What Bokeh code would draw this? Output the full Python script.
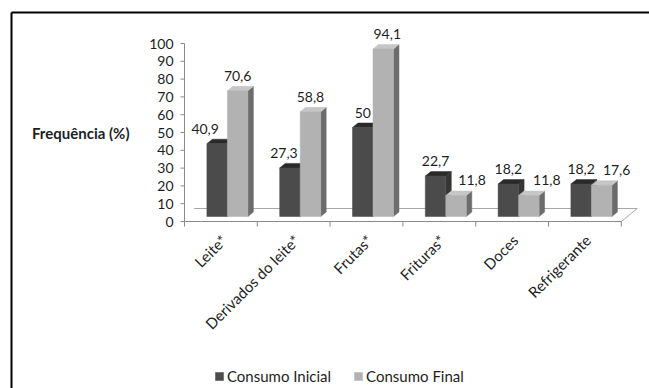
import math

from bokeh.core.properties import value
from bokeh.embed import file_html
from bokeh.models import ColumnDataSource, Legend, LegendItem, Range1d
from bokeh.plotting import figure
from bokeh.resources import INLINE

# ---- data -------------------------------------------------------------
categories = ["Leite*", "Derivados do leite*", "Frutas*", "Frituras*",
              "Doces", "Refrigerante"]
consumo_inicial = [40.9, 27.3, 50, 22.7, 18.2, 18.2]
consumo_final = [70.6, 58.8, 94.1, 11.8, 11.8, 17.6]
series_names = ["Consumo Inicial", "Consumo Final"]
y_ticks = [0, 10, 20, 30, 40, 50, 60, 70, 80, 90, 100]
y_title = "Frequência (%)"

# ---- layout (pixels) --------------------------------------------------
W, H = 649, 388
AXIS_X, AXIS_Y = 184, 221      # pixel position of the value-axis origin
CAT_PX = 72.8                  # pixels per category
UNIT_PX = 1.78                 # pixels per percentage point

FONT = "Lato"
TEXT = "#1e1e1e"
AXIS = "#8a8a8a"

# data range chosen so that the whole canvas is the plotting frame
X_START = -0.5 - AXIS_X / CAT_PX
Y_TOP = AXIS_Y / UNIT_PX


def px_x(px):
    return X_START + px / CAT_PX


def px_y(py):
    return Y_TOP - py / UNIT_PX


# pseudo-3D geometry, in data units
BAR_W = 20.5 / CAT_PX          # width of one column face
PAIR_SHIFT = 6.5 / CAT_PX      # columns sit a little behind the axis plane
LIFT = 5.0 / UNIT_PX
DEP_X = 5.5 / CAT_PX           # depth of a column
DEP_Y = 4.5 / UNIT_PX
FLOOR_X = 16.0 / CAT_PX        # depth of the floor
FLOOR_Y = 13.0 / UNIT_PX

styles = [
    dict(front="#4b4b4b", top="#2a2a2a", side="#363636"),   # Consumo Inicial
    dict(front="#b2b2b2", top="#c6c6c6", side="#6c6c6c"),   # Consumo Final
]


def fmt(v):
    s = f"{v:.1f}".replace(".", ",")
    return s[:-2] if s.endswith(",0") else s


n = len(categories)
p = figure(
    width=W, height=H, output_backend="svg", toolbar_location=None,
    x_range=Range1d(X_START, X_START + W / CAT_PX),
    y_range=Range1d(Y_TOP - H / UNIT_PX, Y_TOP),
    x_axis_location=None, y_axis_location=None,
    min_border=0,
)
p.outline_line_color = None
p.background_fill_color = "white"
p.border_fill_color = "white"
p.xgrid.visible = False
p.ygrid.visible = False

# ---- outer frame (top and left edges) ------------------------------------
p.segment(x0=[px_x(11), px_x(11)], y0=[px_y(12), px_y(12)],
          x1=[px_x(W + 5), px_x(11)], y1=[px_y(12), px_y(H + 5)],
          line_color="black", line_width=2)

# ---- floor --------------------------------------------------------------
left_end, right_end = -0.5, n - 0.5
p.segment(x0=[left_end + FLOOR_X * 0.6, right_end], y0=[FLOOR_Y, 0],
          x1=[right_end + FLOOR_X, right_end + FLOOR_X], y1=[FLOOR_Y, FLOOR_Y],
          line_color="#a8a8a8", line_width=1)

# ---- value axis ---------------------------------------------------------
p.segment(x0=[left_end], y0=[y_ticks[0]], x1=[left_end], y1=[y_ticks[-1]],
          line_color=AXIS, line_width=1)
p.segment(x0=[left_end] * len(y_ticks), y0=y_ticks,
          x1=[left_end - 4 / CAT_PX] * len(y_ticks), y1=y_ticks,
          line_color=AXIS, line_width=1)
p.text(x=[left_end] * len(y_ticks), y=y_ticks, text=[str(t) for t in y_ticks],
       x_offset=-11, text_align="right", text_baseline="middle",
       text_font=value(FONT), text_font_size="14px", text_color=TEXT)

# ---- category axis ------------------------------------------------------
bounds = [i - 0.5 for i in range(n + 1)]
p.segment(x0=[left_end], y0=[0], x1=[right_end], y1=[0],
          line_color=AXIS, line_width=1)
p.segment(x0=bounds, y0=[0] * len(bounds), x1=bounds,
          y1=[-5 / UNIT_PX] * len(bounds), line_color=AXIS, line_width=1)
p.text(x=list(range(n)), y=[0] * n, text=categories, angle=math.pi / 4,
       x_offset=3, y_offset=16, text_align="right", text_baseline="middle",
       text_font=value(FONT), text_font_size="15px", text_color=TEXT)

# ---- columns ------------------------------------------------------------
series = [consumo_inicial, consumo_final]
fronts = []
for k, (vals, st) in enumerate(zip(series, styles)):
    lefts = [i + PAIR_SHIFT - BAR_W + k * BAR_W for i in range(n)]
    rights = [l + BAR_W for l in lefts]
    tops = [v + LIFT for v in vals]
    side_xs = [[r, r, r + DEP_X, r + DEP_X] for r in rights]
    side_ys = [[LIFT, t, t + DEP_Y, LIFT + DEP_Y] for t in tops]
    top_xs = [[l, r, r + DEP_X, l + DEP_X] for l, r in zip(lefts, rights)]
    top_ys = [[t, t, t + DEP_Y, t + DEP_Y] for t in tops]
    p.patches(side_xs, side_ys, fill_color=st["side"], line_color=st["side"], line_width=0.5)
    p.patches(top_xs, top_ys, fill_color=st["top"], line_color=st["top"], line_width=0.5)
    src = ColumnDataSource(dict(left=lefts, right=rights, bottom=[LIFT] * n, top=tops))
    fronts.append(p.quad(left="left", right="right", bottom="bottom", top="top",
                         source=src, fill_color=st["front"], line_color=st["front"],
                         line_width=0.5))

# ---- value labels -------------------------------------------------------
label_dx = [
    [-12, -6, 0, 0, 0, 0],     # Consumo Inicial
    [0, 0, 4, 16, 18, 15],     # Consumo Final
]
for k, vals in enumerate(series):
    xs = [i + PAIR_SHIFT - BAR_W + k * BAR_W + BAR_W / 2 for i in range(n)]
    src = ColumnDataSource(dict(x=xs, y=[v + LIFT for v in vals],
                                t=[fmt(v) for v in vals], dx=label_dx[k]))
    p.text(x="x", y="y", text="t", x_offset="dx", y_offset=-15, source=src,
           text_align="center", text_baseline="middle",
           text_font=value(FONT), text_font_size="14px", text_color=TEXT)

# ---- value-axis title ---------------------------------------------------
p.text(x=[px_x(129)], y=[px_y(132)], text=[y_title],
       text_align="right", text_baseline="middle",
       text_font=value(FONT), text_font_size="15px", text_font_style="bold",
       text_color=TEXT)

# ---- legend -------------------------------------------------------------
legend = Legend(items=[LegendItem(label=nm, renderers=[r])
                       for nm, r in zip(series_names, fronts)],
                orientation="horizontal", location=(214, 3),
                glyph_width=10, glyph_height=10, label_standoff=3, spacing=22,
                padding=0, margin=0, border_line_color=None,
                background_fill_alpha=0, label_text_font=FONT,
                label_text_font_size="15px", label_text_color=TEXT)
p.add_layout(legend, "center")

open("out.html", "w").write(file_html(p, INLINE))
